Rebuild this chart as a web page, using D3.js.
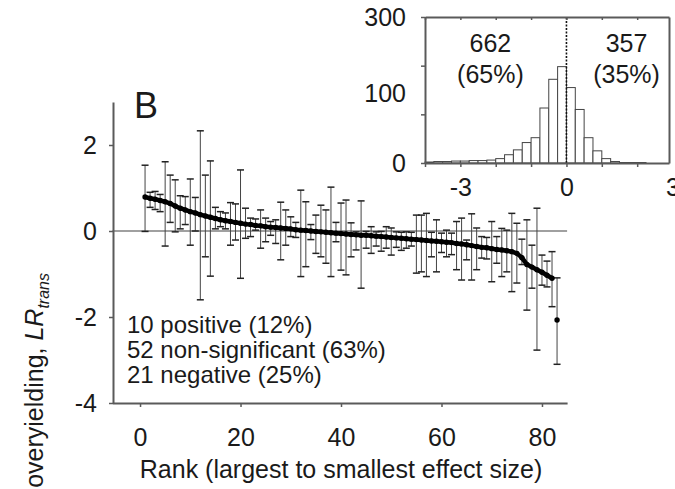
<!DOCTYPE html>
<html>
<head>
<meta charset="utf-8">
<script src="https://cdn.jsdelivr.net/npm/d3@7"></script>
<style>
  html, body { margin: 0; padding: 0; background: #fff; }
  svg { display: block; }
  text { font-family: "Liberation Sans", Arial, Helvetica, sans-serif; fill: #1a1a1a; }
</style>
</head>
<body>
<svg id="chart" width="675" height="489"></svg>
<script>
// ---------------- DATA ----------------
const ranks = [1,2,3,4,5,6,7,8,9,10,11,12,13,14,15,16,17,18,19,20,21,22,23,24,25,26,27,28,29,30,
  31,32,33,34,35,36,37,38,39,40,41,42,43,44,45,46,47,48,49,50,51,52,53,54,55,56,57,58,59,60,
  61,62,63,64,65,66,67,68,69,70,71,72,73,74,75,76,77,78,79,80,81,82,83];
const means = [0.79,0.76,0.74,0.71,0.68,0.64,0.58,0.53,0.49,0.45,0.42,0.38,0.35,0.32,0.29,0.26,0.24,0.22,0.20,0.18,
  0.16,0.15,0.13,0.12,0.10,0.09,0.08,0.07,0.06,0.05,0.03,0.02,0.01,0.00,-0.01,-0.02,-0.03,-0.04,-0.05,-0.06,
  -0.07,-0.08,-0.09,-0.10,-0.10,-0.11,-0.12,-0.13,-0.14,-0.15,-0.16,-0.17,-0.18,-0.19,-0.20,-0.21,-0.22,-0.23,-0.24,-0.25,
  -0.26,-0.27,-0.29,-0.30,-0.32,-0.34,-0.36,-0.38,-0.39,-0.41,-0.43,-0.44,-0.46,-0.48,-0.52,-0.62,-0.78,-0.84,-0.90,-0.96,
  -1.03,-1.10,-2.07];
const lower = [-0.01,0.55,0.50,0.45,-0.35,0.20,-0.02,0.05,0.15,-0.33,0.00,-1.60,-0.60,-1.05,0.05,0.10,0.05,-0.33,-0.21,-1.10,
  -0.17,-0.13,0.02,-0.40,-0.25,-0.10,-0.29,-0.67,-0.33,-0.13,-0.15,-1.06,-0.83,-0.20,-0.52,-0.60,-0.75,-1.06,-0.25,-0.91,
  -1.02,-0.60,-0.44,-1.33,-0.40,-0.52,-0.35,-0.47,-0.40,-0.56,-0.38,-0.45,-0.40,-0.35,-0.98,-0.95,-1.06,-0.60,-0.95,-0.50,
  -0.60,-0.55,-0.90,-1.14,-0.67,-1.14,-0.90,-0.63,-0.65,-1.18,-0.75,-1.06,-0.95,-1.41,-1.21,-0.78,-1.84,-1.33,-2.77,-1.26,
  -1.30,-1.76,-3.10];
const upper = [1.53,0.90,0.92,0.85,1.61,1.30,1.19,0.82,0.80,1.21,0.78,2.33,1.30,1.63,0.55,0.45,0.42,0.66,0.63,1.42,
  0.53,0.30,0.28,0.49,0.30,0.22,0.26,0.67,0.49,0.33,0.20,0.95,0.68,0.15,0.37,0.60,0.49,1.02,0.20,0.65,
  0.72,0.19,-0.02,0.70,-0.01,0.10,-0.02,-0.01,0.10,0.07,-0.02,-0.03,-0.02,-0.03,0.37,0.37,0.41,-0.03,0.26,-0.05,
  0.02,-0.05,0.22,0.30,-0.21,0.40,0.07,-0.13,-0.15,0.22,-0.13,0.06,0.02,0.41,0.18,-0.19,0.26,-0.33,0.53,-0.56,
  -0.70,-0.48,-1.09];

const yTicksMain = [-4, -2, 0, 2];
const xTicksMain = [0, 20, 40, 60, 80];
const summaryLines = ["10 positive (12%)", "52 non-significant (63%)", "21 negative (25%)"];

// inset histogram
const binLow = [-4,-3.75,-3.5,-3.25,-3,-2.75,-2.5,-2.25,-2,-1.75,-1.5,-1.25,-1,-0.75,-0.5,-0.25,
  0,0.25,0.5,0.75,1,1.25,1.5,1.75,2,2.25,2.5,2.75];
const binWidth = 0.25;
const histCounts = [2,3,3,4,4,5,5,6,9,17,27,42,52,113,172,198,
  155,110,52,25,9,3,1,1,1,0,0,0];
const insetXTicks = [-4,-3,-2,-1,0,1,2,3];
const insetXLabels = [-3, 0, 3];
const insetYTicks = [0,100,200,300];
const insetYLabels = [0,100,300];
const insetCounts = [{n:"662", p:"(65%)", side:-1}, {n:"357", p:"(35%)", side:1}];

// ---------------- DRAW ----------------
const svg = d3.select("#chart");
const FS = 25;
const axisColor = "#5a5a5a";

const x = d3.scaleLinear().domain([-5.5, 85]).range([112.4, 567.1]);
const y = d3.scaleLinear().domain([-4, 3]).range([403, 102]);

// zero line
svg.append("line")
  .attr("x1", x(-5.5)).attr("x2", x(85))
  .attr("y1", y(0)).attr("y2", y(0))
  .attr("stroke", "#808080").attr("stroke-width", 1.3);

// error bars
const eb = svg.append("g");
ranks.forEach((r, i) => {
  const cx = x(r);
  eb.append("line").attr("x1", cx).attr("x2", cx).attr("y1", y(lower[i])).attr("y2", y(upper[i]))
    .attr("stroke", "#444").attr("stroke-width", 1);
  eb.append("line").attr("x1", cx - 3.5).attr("x2", cx + 3.5).attr("y1", y(lower[i])).attr("y2", y(lower[i]))
    .attr("stroke", "#222").attr("stroke-width", 1.5);
  eb.append("line").attr("x1", cx - 3.5).attr("x2", cx + 3.5).attr("y1", y(upper[i])).attr("y2", y(upper[i]))
    .attr("stroke", "#222").attr("stroke-width", 1.5);
});

// mean line (connected except the final isolated point)
const lineData = ranks.slice(0, 82).map((r, i) => [r, means[i]]);
svg.append("path")
  .datum(lineData)
  .attr("fill", "none").attr("stroke", "#000").attr("stroke-width", 4.5)
  .attr("stroke-linejoin", "round")
  .attr("d", d3.line().x(d => x(d[0])).y(d => y(d[1])));
svg.append("g").selectAll("circle")
  .data(ranks.map((r, i) => [r, means[i]]))
  .join("circle")
  .attr("cx", d => x(d[0])).attr("cy", d => y(d[1]))
  .attr("r", 2.7).attr("fill", "#000");

// axes
function styleAxis(g) {
  g.select(".domain").attr("stroke", axisColor).attr("stroke-width", 2);
  g.selectAll(".tick line").attr("stroke", axisColor).attr("stroke-width", 1.5);
  g.selectAll(".tick text").attr("font-size", FS).attr("fill", "#1a1a1a")
    .attr("font-family", '"Liberation Sans", Arial, Helvetica, sans-serif');
}
const yAxisG = svg.append("g").attr("transform", "translate(113,0)")
  .call(d3.axisLeft(y).tickValues(yTicksMain).tickSize(4).tickSizeOuter(0).tickPadding(12).tickFormat(d => String(d)));
styleAxis(yAxisG);
const xAxisG = svg.append("g").attr("transform", "translate(0,403)")
  .call(d3.axisBottom(x).tickValues(xTicksMain).tickSize(4).tickSizeOuter(0).tickPadding(21).tickFormat(d => String(d)));
styleAxis(xAxisG);

// axis titles
svg.append("text")
  .attr("x", 341).attr("y", 478).attr("text-anchor", "middle").attr("font-size", FS)
  .text("Rank (largest to smallest effect size)");

const yt = svg.append("text")
  .attr("transform", "translate(43,273) rotate(-90)")
  .attr("text-anchor", "end").attr("font-size", FS);
yt.append("tspan").text("Transgressive overyielding, ");
yt.append("tspan").attr("font-style", "italic").text("LR");
yt.append("tspan").attr("font-style", "italic").attr("font-size", 16).attr("dy", 6).text("trans");

// panel label
svg.append("text").attr("x", 134).attr("y", 118).attr("font-size", 36).text("B");

// summary text
svg.append("g").selectAll("text").data(summaryLines).join("text")
  .attr("x", 127).attr("y", (d, i) => 333 + i * 25).attr("font-size", 24)
  .text(d => d);

// ---------------- INSET ----------------
const xi = d3.scaleLinear().domain([-4, 2.9]).range([425, 669]);
const yi = d3.scaleLinear().domain([0, 300]).range([163, 17]);

svg.append("g").selectAll("rect")
  .data(binLow.map((b, i) => [b, histCounts[i]]).filter(d => d[1] > 0))
  .join("rect")
  .attr("x", d => xi(d[0])).attr("width", d => xi(d[0] + binWidth) - xi(d[0]))
  .attr("y", d => yi(d[1])).attr("height", d => yi(0) - yi(d[1]))
  .attr("fill", "#fff").attr("stroke", "#444").attr("stroke-width", 1);

// dotted zero line
svg.append("line")
  .attr("x1", xi(0)).attr("x2", xi(0)).attr("y1", yi(0)).attr("y2", yi(300))
  .attr("stroke", "#111").attr("stroke-width", 1.6).attr("stroke-dasharray", "2,1.5");

const ixb = svg.append("g").attr("transform", `translate(0,${yi(0)})`)
  .call(d3.axisBottom(xi).tickValues(insetXTicks).tickSize(4).tickSizeOuter(0).tickPadding(11)
    .tickFormat(d => insetXLabels.includes(d) ? String(d) : ""));
styleAxis(ixb);
ixb.selectAll(".tick").filter(d => d > 2.9).select("line").remove();
const ixt = svg.append("g").attr("transform", `translate(0,${yi(300)})`)
  .call(d3.axisBottom(xi).tickValues(insetXTicks.filter(d => d <= 2.9)).tickSize(3).tickSizeOuter(0).tickFormat(() => ""));
styleAxis(ixt);
const iyl = svg.append("g").attr("transform", `translate(${xi(-4)},0)`)
  .call(d3.axisLeft(yi).tickValues(insetYTicks).tickSize(4).tickSizeOuter(0).tickPadding(15)
    .tickFormat(d => insetYLabels.includes(d) ? String(d) : ""));
styleAxis(iyl);
// the "100" label sits above its tick in the original figure
iyl.selectAll(".tick").filter(d => d === 100).select("text").attr("dy", "-0.5em");
const iyr = svg.append("g").attr("transform", `translate(${xi(2.9)},0)`)
  .call(d3.axisRight(yi).tickValues([]).tickSizeOuter(0));
styleAxis(iyr);

// counts on each side of zero
insetCounts.forEach(c => {
  const cx = c.side < 0 ? xi(-2.15) : xi(1.7);
  svg.append("text").attr("x", cx).attr("y", 52).attr("text-anchor", "middle").attr("font-size", FS).text(c.n);
  svg.append("text").attr("x", cx).attr("y", 83).attr("text-anchor", "middle").attr("font-size", FS).text(c.p);
});
</script>
</body>
</html>
